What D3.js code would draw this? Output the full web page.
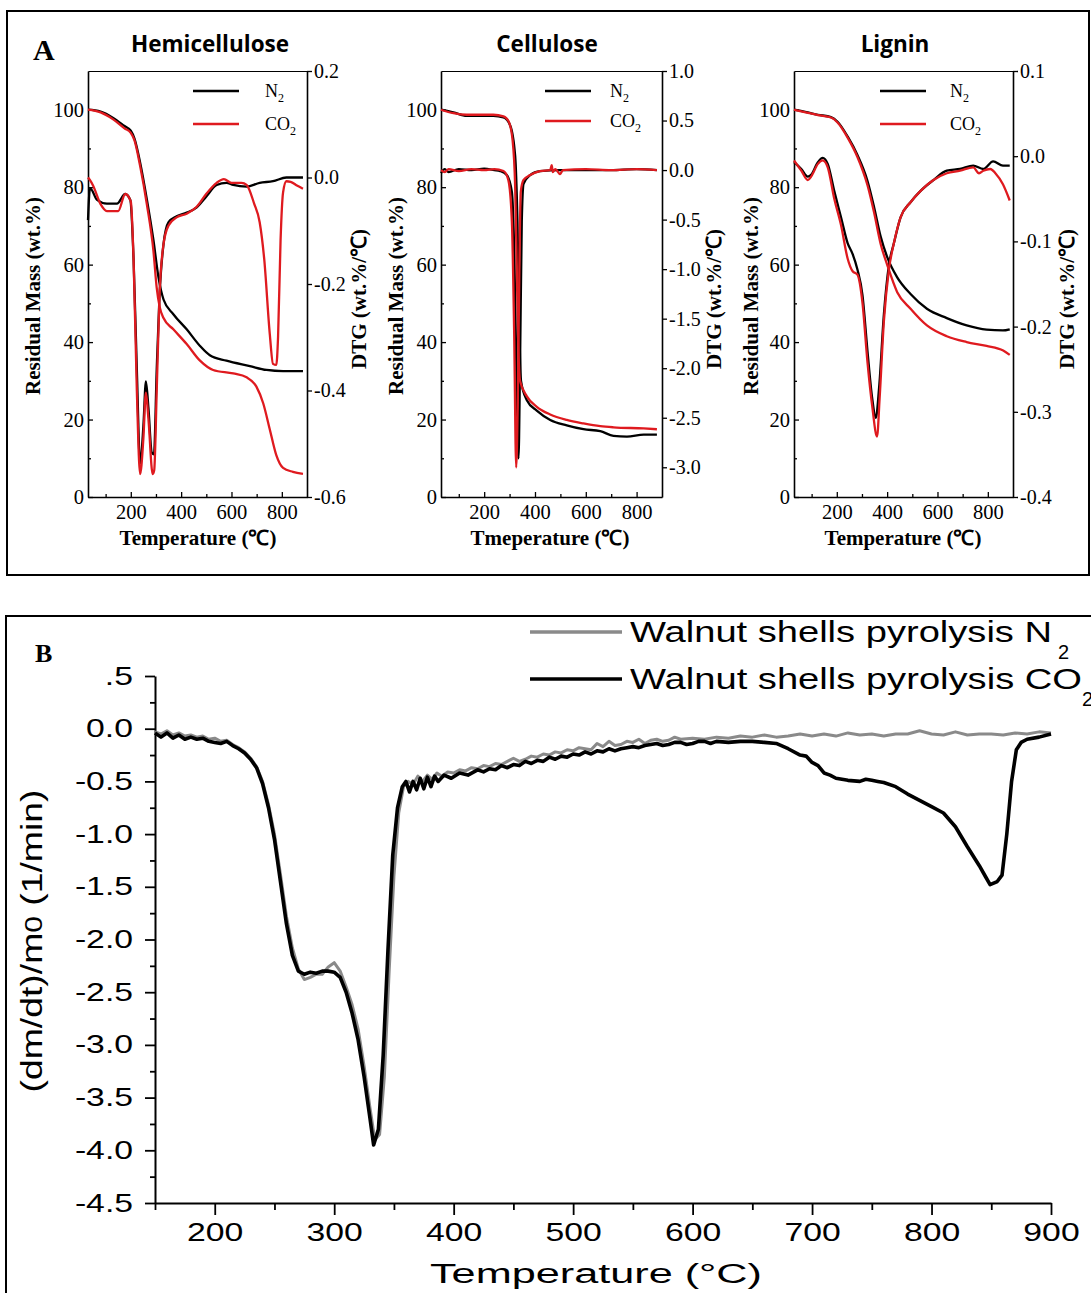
<!DOCTYPE html>
<html>
<head>
<meta charset="utf-8">
<script src="https://cdn.jsdelivr.net/npm/d3@7/dist/d3.min.js"></script>
<style>
  body { margin: 0; background: #fff; }
  svg { display: block; }
</style>
</head>
<body>
<svg id="fig" width="1091" height="1293"></svg>
<script>
/* Data */

// Panel A: [temperature °C, value]. TG = residual mass (wt.%), DTG = wt.%/°C
var hemiTgN2 = [[30,100],[80,99.5],[130,97.9],[175,95.8],[200,94.6],[215,92.5],[237,86.4],[264,76.8],[290,66.3],[310,56.7],[330,51],[369,47.2],[422,43.3],[475,39],[514,36.6],[580,35.2],[673,33.8],[739,32.8],[805,32.5],[884,32.5]];
var hemiTgCo2 = [[30,100],[80,99.3],[130,97.5],[175,95.2],[200,94],[215,92],[237,85.5],[264,75.5],[290,63.5],[303,54],[315,49],[330,46.2],[369,43.3],[422,39.5],[475,35.2],[527,32.8],[607,31.9],[660,30.9],[699,28.5],[726,24.2],[752,17.5],[778,10.8],[805,7.5],[844,6.5],[884,6]];
var hemiDtgN2 = [[30,-0.08],[38,-0.02],[66,-0.042],[105,-0.049],[145,-0.049],[178,-0.031],[198,-0.042],[211,-0.153],[224,-0.36],[237,-0.537],[250,-0.467],[260,-0.383],[270,-0.432],[283,-0.516],[292,-0.52],[303,-0.36],[314,-0.223],[330,-0.125],[350,-0.084],[382,-0.073],[422,-0.066],[462,-0.056],[501,-0.035],[541,-0.014],[580,-0.01],[607,-0.014],[660,-0.017],[712,-0.01],[765,-0.007],[818,0],[884,0]];
var hemiDtgCo2 = [[30,0],[38,-0.005],[50,-0.015],[80,-0.05],[105,-0.063],[150,-0.063],[178,-0.031],[200,-0.045],[211,-0.153],[224,-0.4],[237,-0.557],[250,-0.49],[260,-0.404],[270,-0.453],[287,-0.557],[293,-0.55],[303,-0.4],[314,-0.223],[330,-0.125],[350,-0.09],[382,-0.075],[422,-0.068],[462,-0.055],[501,-0.03],[541,-0.01],[570,-0.003],[600,-0.01],[640,-0.01],[660,-0.014],[690,-0.049],[712,-0.084],[730,-0.153],[752,-0.293],[765,-0.35],[778,-0.352],[785,-0.3],[795,-0.118],[805,-0.028],[818,-0.007],[835,-0.008],[860,-0.015],[884,-0.021]];

var cellTgN2 = [[30,100],[79,99.3],[131,98.4],[236,98.4],[276,98],[302,96],[322,88],[331,71],[339,42],[345,30],[368,25],[407,22.3],[460,19.9],[525,18.5],[591,17.5],[657,17],[709,15.8],[762,15.6],[828,16.1],[880,16.1]];
var cellTgCo2 = [[30,100],[79,99.1],[131,98.7],[236,98.7],[276,98.3],[296,97],[312,92],[322,80],[328,60],[334,40],[341,30],[368,26],[407,23.3],[460,21.3],[525,19.9],[591,19],[657,18.3],[709,18],[828,17.7],[880,17.5]];
var cellDtgN2 = [[30,-0.03],[45,0.01],[60,-0.02],[100,0.01],[150,0],[200,0.015],[240,0],[263,-0.01],[289,-0.05],[309,-0.22],[319,-0.9],[328,-2.2],[335,-2.91],[341,-2.0],[348,-0.52],[355,-0.14],[381,-0.05],[420,-0.01],[500,0],[600,0],[700,0],[800,0.01],[880,0]];
var cellDtgCo2 = [[30,0],[45,-0.02],[60,0.01],[100,-0.01],[150,0.01],[200,0],[240,0.01],[276,-0.01],[295,-0.1],[309,-0.52],[318,-1.64],[326,-3.0],[332,-2.39],[339,-0.9],[344,-0.22],[355,-0.1],[381,-0.05],[420,-0.01],[460,0],[466,0.05],[470,-0.02],[480,0.01],[499,-0.04],[510,0],[600,0.01],[700,0],[800,0.01],[880,0]];

var lignTgN2 = [[30,100],[85,99.3],[125,98.7],[177,98.1],[203,96.9],[243,93.1],[282,88.3],[322,81.6],[348,74.9],[374,67.3],[400,62],[440,56.7],[493,52.4],[558,48.6],[637,46.2],[716,44.3],[795,43.2],[860,43],[887,43.3]];
var lignTgCo2 = [[30,100],[85,99.2],[125,98.6],[177,98],[203,96.7],[243,92.8],[282,87.8],[322,80.5],[348,73.5],[374,65.4],[400,60],[440,52.9],[493,48.6],[558,44.3],[637,41.5],[716,40],[795,39],[861,37.8],[887,36.7]];
var lignDtgN2 = [[30,-0.007],[59,-0.015],[85,-0.024],[98,-0.022],[125,-0.007],[144,-0.002],[164,-0.009],[190,-0.041],[217,-0.072],[243,-0.102],[263,-0.115],[282,-0.133],[302,-0.163],[322,-0.229],[341,-0.285],[355,-0.307],[368,-0.272],[387,-0.186],[407,-0.128],[427,-0.102],[453,-0.072],[493,-0.054],[532,-0.041],[584,-0.028],[637,-0.017],[690,-0.015],[742,-0.011],[782,-0.015],[821,-0.006],[860,-0.011],[887,-0.011]];
var lignDtgCo2 = [[30,-0.005],[59,-0.017],[85,-0.028],[98,-0.024],[125,-0.009],[144,-0.005],[164,-0.013],[190,-0.05],[217,-0.081],[243,-0.12],[263,-0.135],[282,-0.139],[302,-0.172],[322,-0.242],[341,-0.294],[360,-0.329],[370,-0.285],[387,-0.194],[407,-0.133],[427,-0.102],[453,-0.072],[493,-0.054],[532,-0.041],[584,-0.028],[637,-0.02],[690,-0.017],[742,-0.013],[765,-0.02],[782,-0.017],[810,-0.015],[830,-0.02],[860,-0.033],[887,-0.052]];

var massTicks = [0, 20, 40, 60, 80, 100];
var tempTicks = [200, 400, 600, 800];
var hemiDtgTicks = [-0.6, -0.4, -0.2, 0.0, 0.2];
var cellDtgTicks = [-3.0, -2.5, -2.0, -1.5, -1.0, -0.5, 0.0, 0.5, 1.0];
var lignDtgTicks = [-0.4, -0.3, -0.2, -0.1, 0.0, 0.1];

// Panel B: walnut shells, (dm/dt)/m0 in 1/min
var walnutN2 = [[150,-0.03],[155,-0.05],[160,-0.02],[165,-0.06],[170,-0.04],[175,-0.07],[180,-0.06],[185,-0.08],[190,-0.07],[195,-0.1],[200,-0.09],[205,-0.12],[210,-0.11],[215,-0.15],[220,-0.18],[225,-0.22],[230,-0.28],[235,-0.36],[240,-0.5],[245,-0.72],[250,-1.0],[255,-1.38],[260,-1.78],[265,-2.08],[270,-2.28],[275,-2.38],[280,-2.36],[285,-2.33],[290,-2.33],[295,-2.26],[300,-2.22],[305,-2.3],[310,-2.45],[315,-2.62],[320,-2.85],[325,-3.2],[330,-3.6],[334,-3.9],[338,-3.85],[342,-3.3],[346,-2.3],[350,-1.4],[354,-0.8],[358,-0.55],[362,-0.5],[366,-0.53],[370,-0.45],[374,-0.5],[378,-0.44],[382,-0.48],[386,-0.42],[390,-0.45],[395,-0.41],[400,-0.42],[405,-0.39],[410,-0.4],[415,-0.37],[420,-0.38],[425,-0.35],[430,-0.36],[435,-0.33],[440,-0.34],[445,-0.31],[450,-0.28],[455,-0.31],[460,-0.29],[465,-0.26],[470,-0.27],[475,-0.24],[480,-0.25],[485,-0.22],[490,-0.23],[495,-0.2],[500,-0.21],[505,-0.18],[510,-0.19],[515,-0.2],[520,-0.14],[525,-0.17],[530,-0.12],[535,-0.16],[540,-0.15],[545,-0.12],[550,-0.13],[555,-0.1],[560,-0.14],[565,-0.11],[570,-0.1],[575,-0.12],[580,-0.11],[585,-0.08],[590,-0.1],[600,-0.09],[610,-0.1],[620,-0.08],[630,-0.09],[640,-0.07],[650,-0.08],[660,-0.06],[670,-0.08],[680,-0.07],[690,-0.05],[700,-0.07],[710,-0.05],[720,-0.07],[730,-0.04],[740,-0.06],[750,-0.05],[760,-0.07],[770,-0.05],[780,-0.05],[790,-0.02],[800,-0.05],[810,-0.06],[820,-0.03],[830,-0.06],[840,-0.05],[850,-0.05],[860,-0.06],[870,-0.04],[880,-0.05],[890,-0.03],[900,-0.04]];
var walnutCo2 = [[150,-0.04],[155,-0.08],[160,-0.04],[165,-0.09],[170,-0.06],[175,-0.1],[180,-0.08],[185,-0.1],[190,-0.09],[195,-0.12],[200,-0.13],[205,-0.14],[210,-0.12],[215,-0.16],[220,-0.19],[225,-0.23],[230,-0.29],[235,-0.37],[240,-0.52],[245,-0.75],[250,-1.05],[255,-1.45],[260,-1.85],[265,-2.15],[270,-2.3],[275,-2.33],[280,-2.31],[285,-2.32],[290,-2.3],[295,-2.3],[300,-2.31],[305,-2.36],[310,-2.5],[315,-2.7],[320,-2.95],[325,-3.3],[330,-3.7],[333,-3.95],[337,-3.8],[341,-3.1],[345,-2.1],[349,-1.2],[353,-0.75],[357,-0.55],[360,-0.5],[363,-0.6],[366,-0.5],[369,-0.58],[372,-0.47],[375,-0.57],[378,-0.46],[381,-0.55],[384,-0.45],[387,-0.5],[392,-0.44],[398,-0.47],[405,-0.42],[412,-0.44],[420,-0.39],[425,-0.41],[430,-0.38],[435,-0.39],[440,-0.35],[445,-0.37],[450,-0.34],[455,-0.35],[460,-0.31],[465,-0.33],[470,-0.3],[475,-0.31],[480,-0.27],[485,-0.29],[490,-0.26],[495,-0.27],[500,-0.24],[505,-0.25],[510,-0.22],[515,-0.24],[520,-0.21],[525,-0.22],[530,-0.19],[535,-0.21],[540,-0.19],[545,-0.18],[550,-0.17],[555,-0.18],[560,-0.16],[565,-0.15],[570,-0.14],[575,-0.16],[580,-0.15],[585,-0.13],[590,-0.13],[595,-0.15],[600,-0.14],[605,-0.12],[610,-0.12],[615,-0.14],[620,-0.12],[630,-0.13],[640,-0.12],[650,-0.12],[660,-0.13],[670,-0.14],[680,-0.19],[690,-0.25],[695,-0.26],[700,-0.32],[705,-0.35],[710,-0.42],[715,-0.44],[720,-0.47],[730,-0.49],[740,-0.5],[745,-0.48],[750,-0.49],[755,-0.5],[760,-0.51],[770,-0.55],[780,-0.62],[790,-0.68],[800,-0.74],[810,-0.8],[820,-0.93],[830,-1.12],[840,-1.3],[845,-1.4],[849,-1.48],[855,-1.45],[859,-1.39],[863,-1.0],[867,-0.5],[871,-0.2],[875,-0.13],[880,-0.1],[890,-0.08],[900,-0.05]];
var walnutYTicks = [-4.5, -4.0, -3.5, -3.0, -2.5, -2.0, -1.5, -1.0, -0.5, 0.0, 0.5];
var walnutYMinor = [-4.25, -3.75, -3.25, -2.75, -2.25, -1.75, -1.25, -0.75, -0.25, 0.25];
var walnutXTicks = [200, 300, 400, 500, 600, 700, 800, 900];
var walnutXMinor = [150, 250, 350, 450, 550, 650, 750, 850];

/* Drawing */

var svg = d3.select("#fig");
var serif = "'Liberation Serif', 'Times New Roman', serif";
var sans = "'Liberation Sans', Arial, sans-serif";
var red = "#df1a1f";

// panel frames
svg.append("rect").attr("x", 7).attr("y", 11).attr("width", 1082).attr("height", 564)
  .attr("fill", "none").attr("stroke", "#000").attr("stroke-width", 2);
svg.append("rect").attr("x", 6).attr("y", 616).attr("width", 1100).attr("height", 700)
  .attr("fill", "none").attr("stroke", "#000").attr("stroke-width", 2);

svg.append("text").attr("x", 33).attr("y", 60).text("A")
  .style("font-family", serif).style("font-weight", "bold").style("font-size", "30px");
svg.append("text").attr("x", 35).attr("y", 662).text("B")
  .style("font-family", serif).style("font-weight", "bold").style("font-size", "26px");

var plotTop = 71, plotBottom = 497;

var subplots = [
  {title: "Hemicellulose", titleX: 210, left: 88, right: 307, dtgDomain: [-0.6, 0.2], dtgTicks: hemiDtgTicks,
   tg: [hemiTgN2, hemiTgCo2], dtg: [hemiDtgN2, hemiDtgCo2], xTitle: "Temperature (℃)", xTitleX: 198,
   massTitleX: 40, dtgTitleX: 366, legX: 193, legTextX: 265, legY: [91, 124]},
  {title: "Cellulose", titleX: 547, left: 441, right: 662, dtgDomain: [-3.3, 1.0], dtgTicks: cellDtgTicks,
   tg: [cellTgN2, cellTgCo2], dtg: [cellDtgN2, cellDtgCo2], xTitle: "Tmeperature (℃)", xTitleX: 550,
   massTitleX: 403, dtgTitleX: 721, legX: 545, legTextX: 610, legY: [91, 121]},
  {title: "Lignin", titleX: 895, left: 794, right: 1013, dtgDomain: [-0.4, 0.1], dtgTicks: lignDtgTicks,
   tg: [lignTgN2, lignTgCo2], dtg: [lignDtgN2, lignDtgCo2], xTitle: "Temperature (℃)", xTitleX: 903,
   massTitleX: 758, dtgTitleX: 1074, legX: 880, legTextX: 950, legY: [91, 124]}
];

function styleAxis(g, font, size) {
  g.selectAll("path.domain").attr("stroke", "#000").attr("stroke-width", 1.6);
  g.selectAll(".tick line").attr("stroke", "#000").attr("stroke-width", 1.4);
  g.selectAll("text").attr("fill", "#000").style("font-family", font).style("font-size", size);
}

function drawTga(p) {
  var g = svg.append("g");
  var x = d3.scaleLinear().domain([30, 900]).range([p.left, p.right]);
  var yL = d3.scaleLinear().domain([0, 110]).range([plotBottom, plotTop]);
  var yR = d3.scaleLinear().domain(p.dtgDomain).range([plotBottom, plotTop]);

  // frame: top line
  g.append("g").attr("transform", "translate(0," + plotTop + ")")
    .call(d3.axisTop(x).tickValues([]).tickSizeOuter(0));

  // left axis (inward ticks) + minor ticks
  var gl = g.append("g").attr("transform", "translate(" + p.left + ",0)")
    .call(d3.axisLeft(yL).tickValues(massTicks).tickSize(-5).tickSizeOuter(0).tickPadding(4));
  g.append("g").attr("transform", "translate(" + p.left + ",0)")
    .call(d3.axisLeft(yL).tickValues([10, 30, 50, 70, 90]).tickSize(-3).tickFormat(""))
    .select(".domain").remove();
  styleAxis(gl, serif, "20.5px");

  // right axis (outward ticks)
  var gr = g.append("g").attr("transform", "translate(" + p.right + ",0)")
    .call(d3.axisRight(yR).tickValues(p.dtgTicks).tickSize(5).tickSizeOuter(0).tickPadding(2)
      .tickFormat(function(v) { return v.toFixed(1); }));
  styleAxis(gr, serif, "20px");

  // bottom axis (inward ticks)
  var gb = g.append("g").attr("transform", "translate(0," + plotBottom + ")")
    .call(d3.axisBottom(x).tickValues(tempTicks).tickSize(-5).tickSizeOuter(0).tickPadding(7)
      .tickFormat(d3.format("d")));
  g.append("g").attr("transform", "translate(0," + plotBottom + ")")
    .call(d3.axisBottom(x).tickValues([100, 300, 500, 700]).tickSize(-3).tickFormat(""))
    .select(".domain").remove();
  styleAxis(gb, serif, "20.5px");
  g.selectAll(".tick line").attr("stroke", "#000").attr("stroke-width", 1.3);

  var tgLine = d3.line().x(function(d) { return x(d[0]); }).y(function(d) { return yL(d[1]); })
    .curve(d3.curveMonotoneX);
  var dtgLine = d3.line().x(function(d) { return x(d[0]); }).y(function(d) { return yR(d[1]); })
    .curve(d3.curveMonotoneX);
  var colors = ["#000", red];
  [0, 1].forEach(function(i) {
    g.append("path").datum(p.tg[i]).attr("d", tgLine)
      .attr("fill", "none").attr("stroke", colors[i]).attr("stroke-width", 2.3);
    g.append("path").datum(p.dtg[i]).attr("d", dtgLine)
      .attr("fill", "none").attr("stroke", colors[i]).attr("stroke-width", 2.3);
  });

  // titles
  g.append("text").attr("x", p.titleX).attr("y", 52).attr("text-anchor", "middle").text(p.title)
    .style("font-family", "'Open Sans', sans-serif").style("font-weight", "bold").style("font-size", "22.5px");
  g.append("text").attr("transform", "translate(" + p.massTitleX + ",296) rotate(-90)")
    .attr("text-anchor", "middle").text("Residual Mass (wt.%)")
    .style("font-family", serif).style("font-weight", "bold").style("font-size", "21px");
  g.append("text").attr("transform", "translate(" + p.dtgTitleX + ",299) rotate(-90)")
    .attr("text-anchor", "middle").text("DTG (wt.%/℃)")
    .style("font-family", serif).style("font-weight", "bold").style("font-size", "21px");
  g.append("text").attr("x", p.xTitleX).attr("y", 545).attr("text-anchor", "middle").text(p.xTitle)
    .style("font-family", serif).style("font-weight", "bold").style("font-size", "21px");

  // legend
  var names = ["N", "CO"];
  [0, 1].forEach(function(i) {
    var ly = p.legY[i];
    g.append("line").attr("x1", p.legX).attr("x2", p.legX + 46).attr("y1", ly).attr("y2", ly)
      .attr("stroke", colors[i]).attr("stroke-width", 2.6);
    var t = g.append("text").attr("x", p.legTextX).attr("y", ly + 6)
      .style("font-family", serif).style("font-size", "18px");
    t.append("tspan").text(names[i]);
    t.append("tspan").attr("dy", 5).style("font-size", "12px").text("2");
  });
}

subplots.forEach(drawTga);

/* Panel B */
var xB = d3.scaleLinear().domain([150, 900]).range([155, 1051]);
var yB = d3.scaleLinear().domain([-4.5, 0.5]).range([1203, 676]);
var gB = svg.append("g");
var stretch = 1.35;

var yAxisB = gB.append("g").attr("transform", "translate(155,0)")
  .call(d3.axisLeft(yB).tickValues(walnutYTicks).tickSize(10).tickSizeOuter(0)
    .tickFormat(function(v) { return v === 0.5 ? ".5" : v.toFixed(1); }));
gB.append("g").attr("transform", "translate(155,0)")
  .call(d3.axisLeft(yB).tickValues(walnutYMinor).tickSize(5).tickFormat(""))
  .select(".domain").remove();
styleAxis(yAxisB, sans, "25px");
yAxisB.selectAll("text").attr("x", -22 / stretch).attr("transform", "scale(" + stretch + ",1)");

var xAxisB = gB.append("g").attr("transform", "translate(0,1203)")
  .call(d3.axisBottom(xB).tickValues(walnutXTicks).tickSize(12).tickSizeOuter(0).tickPadding(8)
    .tickFormat(d3.format("d")));
gB.append("g").attr("transform", "translate(0,1203)")
  .call(d3.axisBottom(xB).tickValues(walnutXMinor).tickSize(7).tickFormat(""))
  .select(".domain").remove();
styleAxis(xAxisB, sans, "25px");
xAxisB.selectAll("text").attr("transform", "scale(" + stretch + ",1)");
gB.selectAll(".domain").attr("stroke-width", 2);
gB.selectAll(".tick line").attr("stroke", "#000").attr("stroke-width", 1.8);

var lineB = d3.line().x(function(d) { return xB(d[0]); }).y(function(d) { return yB(d[1]); });
gB.append("path").datum(walnutN2).attr("d", lineB)
  .attr("fill", "none").attr("stroke", "#8a8a8a").attr("stroke-width", 3).attr("stroke-linejoin", "round");
gB.append("path").datum(walnutCo2).attr("d", lineB)
  .attr("fill", "none").attr("stroke", "#000").attr("stroke-width", 3.6).attr("stroke-linejoin", "round");

// axis titles
var yt = gB.append("text").attr("transform", "translate(42,941) rotate(-90)")
  .attr("text-anchor", "middle").attr("textLength", 303).attr("lengthAdjust", "spacingAndGlyphs")
  .style("font-family", sans).style("font-size", "30px");
yt.append("tspan").text("(dm/dt)/m");
yt.append("tspan").style("font-size", "24px").text("0");
yt.append("tspan").text(" (1/min)");

gB.append("text").attr("x", 596).attr("y", 1283).attr("text-anchor", "middle")
  .attr("textLength", 332).attr("lengthAdjust", "spacingAndGlyphs")
  .style("font-family", sans).style("font-size", "27px").text("Temperature (°C)");

// legend
var legB = [
  {label: "Walnut shells pyrolysis N", color: "#8a8a8a", y: 632, len: 422, subX: 1058},
  {label: "Walnut shells pyrolysis CO", color: "#000", y: 679, len: 452, subX: 1082}
];
legB.forEach(function(d) {
  gB.append("line").attr("x1", 530).attr("x2", 622).attr("y1", d.y).attr("y2", d.y)
    .attr("stroke", d.color).attr("stroke-width", 3.5);
  gB.append("text").attr("x", 630).attr("y", d.y + 10)
    .attr("textLength", d.len).attr("lengthAdjust", "spacingAndGlyphs")
    .style("font-family", sans).style("font-size", "29px").text(d.label);
  gB.append("text").attr("x", d.subX).attr("y", d.y + 27)
    .style("font-family", sans).style("font-size", "20px").text("2");
});
</script>
</body>
</html>
